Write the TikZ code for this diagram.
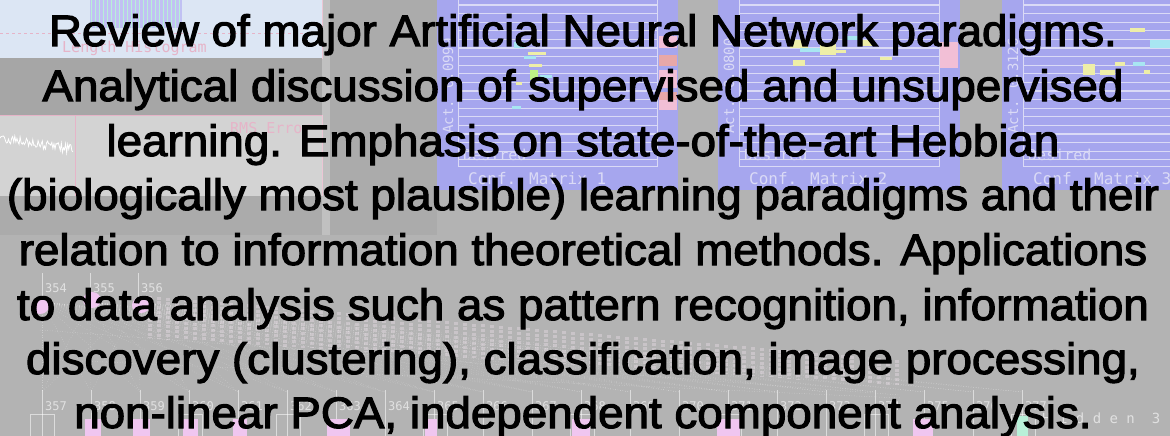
\documentclass[tikz,border=0pt]{standalone}
\usepackage{fontspec}
\setmainfont{Liberation Sans}[FakeBold=2.5]
\newfontfamily\monofont{DejaVu Sans Mono}
\usepackage{graphicx}

\definecolor{bggray}{HTML}{B3B3B3}
\definecolor{darkband}{HTML}{A6A6A6}
\definecolor{colgray}{HTML}{ABABAB}
\definecolor{histblue}{HTML}{DCE6F4}
\definecolor{errpanel}{HTML}{D3D3D3}
\definecolor{lav}{HTML}{A6A6EE}
\definecolor{lavline}{HTML}{DADAF6}
\definecolor{pinkfaint}{HTML}{E6B4C8}
\definecolor{pinkcell}{HTML}{F2BFD6}
\definecolor{redcell}{HTML}{E8A8A8}
\definecolor{yellcell}{HTML}{EEEEA8}
\definecolor{cyancell}{HTML}{A8E6F2}
\definecolor{nodepink}{HTML}{F0C6F0}
\definecolor{nodegreen}{HTML}{B8F0D8}
\definecolor{cellwhite}{HTML}{F4E4F0}

\tikzset{
  textline/.style={anchor=base, inner sep=0pt, text=black,
    font=\fontsize{44}{44}\selectfont},
  monolab/.style={inner sep=0pt, text=lavline, font=\monofont\fontsize{15}{15}\selectfont},
  netlab/.style={inner sep=0pt, anchor=base west, text=white, opacity=.6,
    font=\monofont\fontsize{12}{12}\selectfont},
  faintlab/.style={inner sep=0pt, anchor=base west, text=pinkfaint,
    font=\monofont\fontsize{15}{15}\selectfont},
  gridline/.style={lavline, line width=1.2pt},
  panelline/.style={lavline, line width=1pt},
  netline/.style={white, opacity=.55, line width=.6pt},
  fanline/.style={white, opacity=.3, line width=.5pt, dotted},
  cellcol/.style={cellwhite, opacity=.35, line width=4pt, dash pattern=on 3pt off 1.6pt},
}

\begin{document}
\begin{tikzpicture}[x=1pt,y=-1pt]
\useasboundingbox (0,0) rectangle (1170,436);
\begin{scope}
\clip (0,0) rectangle (1170,436);
\fill[bggray] (0,0) rectangle (1170,436);

% ---- left column: histogram panel and error panel
\fill[colgray] (0,0) rectangle (437,235);
\fill[histblue] (0,0) rectangle (322,58);
\fill[lav!70!white] (90,0) rectangle (182,28);
\foreach \k in {0,...,22}
  \draw[nodegreen, line width=1pt] (91.5+4*\k,0) -- (91.5+4*\k,28);
\draw[pinkfaint, dashed, line width=.8pt] (0,33) -- (322,33);
\draw[pinkfaint, line width=.8pt] (0,58) -- (322,58) -- (322,0);
\node[faintlab] (histlab) at (62,53) {Length Histogram};
\fill[darkband] (0,58) rectangle (322,115);
\fill[errpanel] (0,115) rectangle (322,196);
\draw[pinkfaint, line width=.8pt] (0,115) -- (322,115) -- (322,196);
\draw[pinkfaint, line width=.8pt] (75,115) -- (75,196);
\node[faintlab] (rmslab) at (230,133) {RMS Error};
\pgfmathsetseed{11}
\draw[white, line width=.8pt] plot[domain=0:73, samples=70]
  (\x, {138+\x*0.16+5*rand});
\fill[white, opacity=.25] (322,0) rectangle (330,235);

% ---- confusion-matrix panels
\foreach \xa/\xb/\n/\act in {437/678/1/0.0999, 718/960/2/0.0800, 1002/1244/3/0.3126}{
  \fill[lav] (\xa,0) rectangle (\xb,190);
  \foreach \k in {0,...,18}
    \draw[gridline] (\xa+21,5+8.6*\k) -- (\xb-21,5+8.6*\k);
  \draw[panelline] (\xa+21,0) -- (\xa+21,166) -- (\xb-21,166) -- (\xb-21,0);
  \node[monolab, anchor=base west] (des\n) at (\xa+26,160) {Desired};
  \node[monolab, anchor=base west, font=\monofont\fontsize{16}{16}\selectfont]
    (cm\n) at (\xa+31,184) {Conf. Matrix \n};
  \node[monolab, rotate=90, font=\monofont\fontsize{14}{14}\selectfont]
    (act\n) at (\xa+11,86) {Act. \act};
}
% activity cells, panel 1
\fill[cyancell] (514,42) rectangle (524,48);
\fill[yellcell] (528,52) rectangle (546,55);
\fill[cyancell] (524,56) rectangle (536,59);
\fill[yellcell] (529,64) rectangle (542,67);
\fill[yellcell!80!green] (530,70) rectangle (538,80);
\fill[cyancell] (540,75) rectangle (552,78);
\fill[yellcell] (516,82) rectangle (522,85);
\fill[cyancell] (512,106) rectangle (521,109);
\fill[pinkcell] (659,36) rectangle (677,48);
\fill[redcell] (659,55) rectangle (677,66);
\fill[pinkcell] (659,70) rectangle (677,88);
\fill[redcell] (659,92) rectangle (677,100);
\fill[pinkcell] (659,100) rectangle (677,110);
% activity cells, panel 2
\fill[yellcell] (790,40) rectangle (808,48);
\fill[cyancell] (800,48) rectangle (820,52);
\fill[yellcell] (820,44) rectangle (836,55);
\fill[yellcell] (836,50) rectangle (846,53);
\fill[yellcell] (793,60) rectangle (805,66);
\fill[cyancell] (845,36) rectangle (858,40);
\fill[yellcell] (858,40) rectangle (872,46);
\fill[yellcell] (880,57) rectangle (892,60);
\fill[pinkcell] (940,42) rectangle (958,68);
% activity cells, panel 3
\fill[yellcell] (1083,64) rectangle (1095,75);
\fill[yellcell] (1100,70) rectangle (1115,75);
\fill[yellcell] (1115,62) rectangle (1125,66);
\fill[cyancell] (1133,62) rectangle (1145,66);
\fill[yellcell] (1144,70) rectangle (1150,74);
\fill[cyancell] (1150,40) rectangle (1170,48);
\fill[yellcell] (1130,28) rectangle (1145,32);

% ---- network view in the lower half
% hidden layer drawn as a slanted band of unit columns
\foreach \k in {0,...,83}{
  \pgfmathsetmacro\tx{150+9*\k}
  \pgfmathsetmacro\ty{296+0.085*(\tx-150)}
  \pgfmathsetmacro\th{42-0.022*(\tx-150)}
  \draw[cellcol] (\tx,\ty) -- (\tx,\ty+\th);
}
\foreach \i in {0,1,2}
  \foreach \k in {0,...,20}
    \draw[fanline] (42+48*\i,302) -- (42+49*\k,392);
\draw[fanline, opacity=.45] (40,330) -- (900,395);
\draw[fanline, opacity=.45] (60,360) -- (900,398);
\foreach \lab [count=\i from 0] in {354,355,356}{
  \draw[netline] (42+48*\i,273) -- (42+48*\i,300);
  \node[netlab] (top\lab) at (45+48*\i,292) {\lab};
}
\fill[nodepink] (40,306) ellipse [x radius=9, y radius=8];
\fill[nodepink] (92,300) ellipse [x radius=9, y radius=8];
\fill[nodepink] (141,305) ellipse [x radius=9, y radius=8];
\foreach \lab [count=\k from 0] in {357,358,...,377}{
  \draw[netline] (42+49*\k,390) -- (42+49*\k,436);
  \node[netlab] (bot\lab) at (45+49*\k,410) {\lab};
}
\foreach \bx in {30,178,276,423,570,717,864,1011}
  \draw[netline] (\bx,414) rectangle (\bx+24,436);
\foreach \bx/\bw in {85/16,133/17,183/15,233/14,327/23,425/12,572/18,717/23,913/20}
  \fill[nodepink] (\bx,419) rectangle (\bx+\bw,436);
\fill[nodegreen] (1017,416) rectangle (1028,436);
\node[netlab, font=\monofont\fontsize{14}{14}\selectfont] (hid3) at (1042,423)
  {H~i~d~d~e~n~~3};
\end{scope}

% ---- course description
\node[textline] (l1) at (583,46)  {\scalebox{1.04}[1]{Review of major Artificial Neural Network paradigms.}};
\node[textline] (l2) at (583,101) {\scalebox{1.04}[1]{Analytical discussion of supervised and unsupervised}};
\node[textline] (l3) at (583,156) {\scalebox{1.04}[1]{learning. Emphasis on state-of-the-art Hebbian}};
\node[textline] (l4) at (583,210) {\scalebox{1.04}[1]{(biologically most plausible) learning paradigms and their}};
\node[textline] (l5) at (583,265) {\scalebox{1.04}[1]{relation to information theoretical methods. Applications}};
\node[textline] (l6) at (583,320) {\scalebox{1.04}[1]{to data analysis such as pattern recognition, information}};
\node[textline] (l7) at (583,374) {\scalebox{1.04}[1]{discovery (clustering), classification, image processing,}};
\node[textline] (l8) at (583,428) {\scalebox{1.04}[1]{non-linear PCA, independent component analysis.}};
\end{tikzpicture}
\end{document}
